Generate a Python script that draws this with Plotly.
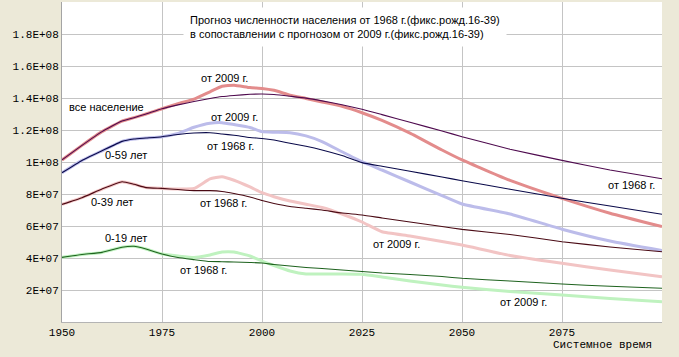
import plotly.graph_objects as go

# ---- data (population, millions) ----
years = [1950, 1955, 1960, 1965, 1968, 1971, 1975, 1979, 1983, 1987, 1990, 1993, 1997,
         2000, 2003, 2007, 2011, 2015, 2020, 2025, 2030, 2037, 2045, 2050, 2062, 2075, 2087, 2100]

all_1968 = [101.3, 110.4, 119, 125.6, 127.7, 130, 133.3, 135.7, 137.8, 139.7, 140.9, 141.6, 142.3,
            142.5, 142.2, 141.1, 139.9, 138.2, 135.8, 133, 129.6, 124.8, 119.4, 115.8, 108, 101, 95, 89.5]
all_2009 = [101.3, 110.4, 119, 125.6, 127.7, 130, 133.3, 136.5, 139.3, 143.9, 147.3, 148, 146.5,
            146, 144.8, 141.8, 139.7, 137.5, 134.8, 130.8, 126, 118, 107.5, 101.3, 88.5, 77.3, 68, 59.6]

a59_1968 = [93.3, 101, 107, 112.9, 114.4, 115, 115.8, 117.2, 118.1, 118.3, 117.5, 116.7, 115.3,
            114.7, 113.7, 111.7, 109.8, 107.5, 104, 99.6, 97.3, 94.2, 90.6, 88.3, 83, 77.3, 72.5, 67.3]
a59_2009 = [93.3, 101, 107, 112.9, 114.4, 115, 115.8, 117.9, 121.7, 124.2, 124.6, 123.4, 121.6,
            119.0, 118.6, 118.3, 116.3, 112.8, 106.4, 100.2, 95, 87.5, 79, 73.75, 67.5, 58, 50.6, 44.6]

a39_1968 = [73.5, 77.7, 83.1, 87.7, 86.1, 84, 83.5, 82.8, 82.1, 82.1, 81.6, 80.3, 78.1,
            75.9, 74.1, 72.2, 71.1, 70, 68.1, 66.9, 65, 62.5, 59.7, 57.9, 54.7, 50.2, 46.9, 43.9]
a39_2009 = [73.5, 77.7, 83.1, 87.7, 86.1, 84, 83.5, 83.1, 83.4, 89.4, 90.8, 88.6, 84.4,
            80.8, 78.3, 75.6, 73.6, 71.6, 67.5, 62.5, 56.4, 53.8, 50.3, 48.1, 41.6, 36.7, 32.5, 28.3]

a19_1968 = [40.4, 42.2, 43.5, 46.7, 47.3, 45.6, 42.5, 40.3, 39, 37.8, 37.7, 37.5, 37.2,
            36.9, 35.9, 35, 34.1, 33.4, 32.5, 31.6, 30.6, 29.7, 28.4, 27.3, 25.6, 23.75, 22.3, 21.1]
a19_2009 = [40.4, 42.2, 43.5, 46.7, 47.3, 45.6, 42.5, 41.25, 40.3, 41.9, 43.75, 43.75, 41.25,
            38.1, 35.3, 31.9, 30, 30, 30, 29.8, 28.1, 25.6, 23.1, 21.7, 19.1, 16.9, 14.7, 12.7]

x_ticks = [1950, 1975, 2000, 2025, 2050, 2075]
x_ticktext = ["1950", "1975", "2000", "2025", "2050", "2075"]
y_ticks = [20, 40, 60, 80, 100, 120, 140, 160, 180]
y_ticktext = ["2E+07", "4E+07", "6E+07", "8E+07", "1E+08", "1.2E+08", "1.4E+08", "1.6E+08", "1.8E+08"]

title_text = ("Прогноз численности населения от 1968 г.(фикс.рожд.16-39)<br>"
              "в сопоставлении с прогнозом от 2009 г.(фикс.рожд.16-39)")

# ---- figure ----
fig = go.Figure()

thick = [
    (all_2009, "#E38C8C"),
    (a59_2009, "#BCBCEA"),
    (a39_2009, "#F2C4C4"),
    (a19_2009, "#BFF2BF"),
]
thin = [
    (all_1968, "#4E0A4E"),
    (a59_1968, "#0A0A4A"),
    (a39_1968, "#4A0A14"),
    (a19_1968, "#1F631F"),
]
for vals, col in thick:
    fig.add_trace(go.Scatter(x=years, y=vals, mode="lines",
                             line=dict(color=col, width=3, shape="spline", smoothing=0.4),
                             hoverinfo="skip"))
for vals, col in thin:
    fig.add_trace(go.Scatter(x=years, y=vals, mode="lines",
                             line=dict(color=col, width=1.1, shape="spline", smoothing=0.4),
                             hoverinfo="skip"))

lab_font = dict(family="Liberation Sans, Arial, sans-serif", size=11, color="black")
mono = dict(family="Liberation Mono, Courier New, monospace", size=11, color="black")
labels = [
    ("все население", 1961, 134.4),
    ("от 2009 г.", 1990.5, 152.5),
    ("от 2009 г.", 1993, 128.1),
    ("от 1968 г.", 1992, 110),
    ("0-59 лет", 1966, 104.4),
    ("0-39 лет", 1962.5, 75),
    ("от 1968 г.", 1990.25, 74.4),
    ("0-19 лет", 1966, 52.5),
    ("от 1968 г.", 1985.25, 32.5),
    ("от 2009 г.", 2033.5, 48.75),
    ("от 2009 г.", 2065.25, 12.5),
    ("от 1968 г.", 2092.25, 85.6),
]
for t, xx, yy in labels:
    fig.add_annotation(x=xx, y=yy, xref="x", yref="y", text=t, showarrow=False,
                       font=lab_font, xanchor="center", yanchor="middle")

fig.add_annotation(x=0.4717, y=0.922, xref="paper", yref="paper", text=title_text,
                   showarrow=False, font=lab_font, align="left", bgcolor="white",
                   borderpad=6, xanchor="center", yanchor="middle")

fig.add_annotation(x=0.987, y=-0.072, xref="paper", yref="paper", text="Системное время",
                   showarrow=False, font=mono, xanchor="right", yanchor="middle")

fig.update_layout(
    width=679, height=357,
    margin=dict(l=62, r=17, t=2, b=35),
    paper_bgcolor="#ECE9D8",
    plot_bgcolor="white",
    showlegend=False,
    hovermode=False,
    xaxis=dict(range=[1950, 2100], tickvals=x_ticks, ticktext=x_ticktext,
               showgrid=True, gridcolor="#C4C4C4", gridwidth=1,
               showline=True, linecolor="#B4B4B4", linewidth=1,
               zeroline=False, ticks="", tickfont=mono),
    yaxis=dict(range=[0, 200], tickvals=y_ticks, ticktext=y_ticktext,
               showgrid=True, gridcolor="#C4C4C4", gridwidth=1,
               showline=True, linecolor="#A4A4A4", linewidth=1,
               zeroline=False, ticks="", tickfont=mono),
)

fig.write_html("out.html",
               config={"displayModeBar": False, "staticPlot": True},
               post_script="document.body.style.margin='0';document.body.style.overflow='hidden';")
